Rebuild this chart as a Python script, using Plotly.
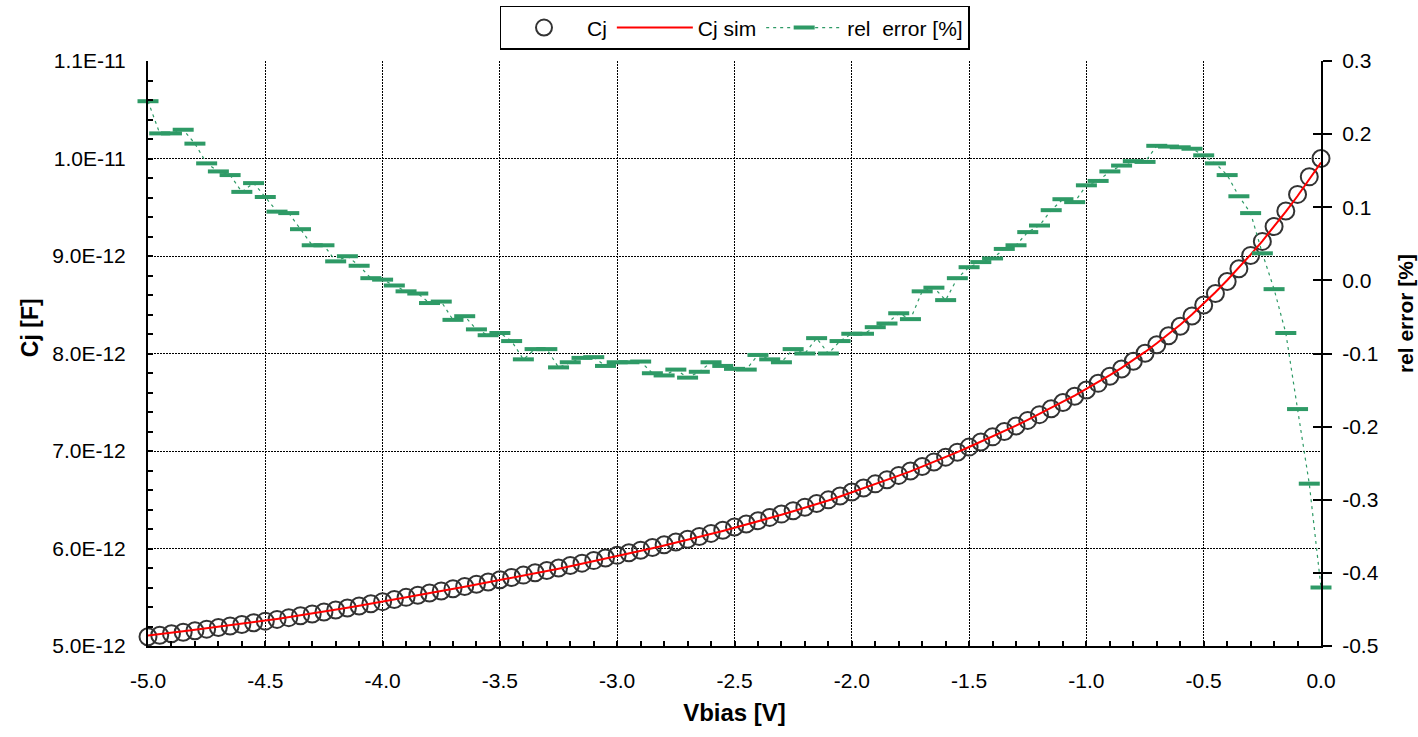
import plotly.graph_objects as go

# Bias sweep: -5.0 V to 0.0 V in 50 mV steps
vbias = [round(-5.0 + 0.05 * i, 2) for i in range(101)]

# Measured junction capacitance in pF
cj_pf = [
    5.095, 5.110, 5.125, 5.141, 5.157, 5.173, 5.189, 5.205, 5.221, 5.238,
    5.255, 5.273, 5.291, 5.310, 5.329, 5.349, 5.369, 5.390, 5.411, 5.433,
    5.455, 5.477, 5.499, 5.521, 5.543, 5.565, 5.588, 5.611, 5.634, 5.657,
    5.680, 5.703, 5.727, 5.751, 5.775, 5.800, 5.825, 5.850, 5.876, 5.903,
    5.930, 5.956, 5.983, 6.010, 6.038, 6.066, 6.095, 6.124, 6.155, 6.187,
    6.220, 6.252, 6.285, 6.319, 6.353, 6.388, 6.424, 6.461, 6.499, 6.539,
    6.580, 6.621, 6.663, 6.706, 6.750, 6.795, 6.841, 6.888, 6.937, 6.988,
    7.040, 7.092, 7.145, 7.200, 7.256, 7.314, 7.373, 7.434, 7.497, 7.561,
    7.626, 7.694, 7.766, 7.841, 7.920, 8.003, 8.090, 8.182, 8.280, 8.385,
    8.497, 8.615, 8.739, 8.869, 9.006, 9.150, 9.302, 9.462, 9.632, 9.812,
    10.000,
]

# Relative error of the simulated capacitance, in percent
rel_err = [
    0.245, 0.201, 0.201, 0.206, 0.187, 0.160, 0.149, 0.144, 0.121, 0.133,
    0.114, 0.094, 0.092, 0.070, 0.048, 0.048, 0.026, 0.033, 0.020, 0.003,
    0.001, -0.007, -0.015, -0.018, -0.031, -0.029, -0.054, -0.049, -0.067, -0.075,
    -0.072, -0.083, -0.108, -0.094, -0.094, -0.119, -0.112, -0.106, -0.105, -0.117,
    -0.112, -0.112, -0.111, -0.127, -0.130, -0.122, -0.133, -0.125, -0.112, -0.117,
    -0.121, -0.122, -0.102, -0.108, -0.112, -0.094, -0.100, -0.079, -0.100, -0.083,
    -0.073, -0.073, -0.064, -0.059, -0.045, -0.053, -0.015, -0.010, -0.027, 0.003,
    0.018, 0.025, 0.030, 0.043, 0.048, 0.066, 0.075, 0.096, 0.111, 0.107,
    0.130, 0.136, 0.149, 0.157, 0.163, 0.162, 0.184, 0.183, 0.182, 0.180,
    0.171, 0.160, 0.144, 0.115, 0.092, 0.037, -0.012, -0.072, -0.176, -0.278,
    -0.420,
]

# Axis ticks
x_tickvals = [-5.0, -4.5, -4.0, -3.5, -3.0, -2.5, -2.0, -1.5, -1.0, -0.5, 0.0]
x_ticktext = ["-5.0", "-4.5", "-4.0", "-3.5", "-3.0", "-2.5", "-2.0", "-1.5", "-1.0", "-0.5", "0.0"]
cj_tickvals = [5e-12, 6e-12, 7e-12, 8e-12, 9e-12, 1.0e-11, 1.1e-11]
cj_ticktext = ["5.0E-12", "6.0E-12", "7.0E-12", "8.0E-12", "9.0E-12", "1.0E-11", "1.1E-11"]
err_tickvals = [-0.5, -0.4, -0.3, -0.2, -0.1, 0.0, 0.1, 0.2, 0.3]
err_ticktext = ["-0.5", "-0.4", "-0.3", "-0.2", "-0.1", "0.0", "0.1", "0.2", "0.3"]

cj = [c * 1e-12 for c in cj_pf]
cj_sim = [c * (1 + e / 100.0) for c, e in zip(cj, rel_err)]

FONT = "Arial, 'Liberation Sans', sans-serif"
GREEN = "rgb(46,154,102)"

fig = go.Figure()

fig.add_trace(go.Scatter(
    x=vbias, y=cj, name="Cj", mode="markers", cliponaxis=False,
    marker=dict(symbol="circle-open", size=17, color="#333333",
                line=dict(width=2, color="#333333")),
))
fig.add_trace(go.Scatter(
    x=vbias, y=cj_sim, name="Cj sim", mode="lines",
    line=dict(color="red", width=2),
))
fig.add_trace(go.Scatter(
    x=vbias, y=rel_err, name="rel\u00a0 error [%]", mode="lines+markers",
    yaxis="y2", cliponaxis=False,
    line=dict(color=GREEN, width=1.2, dash="3px,4px"),
    marker=dict(symbol="line-ew", size=15, color=GREEN,
                line=dict(width=4, color=GREEN)),
))
# invisible carrier for the inner tick marks of the right axis
fig.add_trace(go.Scatter(
    x=vbias, y=rel_err, yaxis="y3", mode="lines",
    line=dict(width=0), opacity=0, showlegend=False, hoverinfo="skip",
))

tick_font = dict(family=FONT, size=21, color="black")
title_font = dict(family=FONT, size=24, color="black")

fig.update_layout(
    width=1418, height=737, autosize=False,
    margin=dict(l=148, r=97, t=61, b=91, autoexpand=False),
    paper_bgcolor="white", plot_bgcolor="white",
    font=dict(family=FONT, size=21, color="black"),
    showlegend=True,
    legend=dict(
        orientation="h", xref="paper", x=0.5, xanchor="center",
        yref="container", y=0.992, yanchor="top",
        bordercolor="black", borderwidth=1.5, bgcolor="white",
        font=dict(family=FONT, size=21, color="black"),
        itemwidth=76,
    ),
    xaxis=dict(
        range=[-5, 0], tickmode="array", tickvals=x_tickvals, ticktext=x_ticktext,
        ticks="inside", ticklen=5, tickwidth=1.5, tickcolor="black",
        showline=True, linewidth=2, linecolor="black", mirror=False,
        showgrid=True, gridcolor="black", gridwidth=1.3, griddash="2px,1px",
        zeroline=False, tickfont=tick_font, ticklabelstandoff=15,
        minor=dict(tickmode="linear", tick0=-5, dtick=0.1, ticks="inside",
                   ticklen=5, tickwidth=1.5, tickcolor="black", showgrid=False),
        title=dict(text="<b>Vbias [V]</b>", font=title_font, standoff=13),
    ),
    yaxis=dict(
        range=[5e-12, 1.1e-11], tickmode="array", tickvals=cj_tickvals, ticktext=cj_ticktext,
        ticks="inside", ticklen=5, tickwidth=1.5, tickcolor="black",
        showline=True, linewidth=2, linecolor="black",
        showgrid=True, gridcolor="black", gridwidth=1.3, griddash="2px,1px",
        zeroline=False, tickfont=tick_font, ticklabelstandoff=16,
        minor=dict(tickmode="linear", tick0=5e-12, dtick=0.2e-12, ticks="inside",
                   ticklen=5, tickwidth=1.5, tickcolor="black", showgrid=False),
    ),
    yaxis2=dict(
        overlaying="y", side="right", anchor="x",
        range=[-0.5, 0.3], tickmode="array", tickvals=err_tickvals, ticktext=err_ticktext,
        ticks="outside", ticklen=9, tickwidth=1.5, tickcolor="black",
        showline=True, linewidth=2, linecolor="black",
        showgrid=False, zeroline=False, tickfont=tick_font, ticklabelstandoff=6,
    ),
    yaxis3=dict(
        overlaying="y", side="right", anchor="x",
        range=[-0.5, 0.3], tickmode="array", tickvals=err_tickvals,
        ticks="inside", ticklen=8, tickwidth=1.5, tickcolor="black",
        showticklabels=False, showline=False, showgrid=False, zeroline=False,
    ),
    annotations=[
        dict(text="<b>Cj [F]</b>", xref="paper", yref="paper", x=-0.1006, y=0.545,
             xanchor="center", yanchor="middle",
             textangle=-90, showarrow=False, font=dict(family=FONT, size=23, color="black")),
        dict(text="<b>rel error [%]</b>", xref="paper", yref="paper", x=1.0716, y=0.569,
             xanchor="center", yanchor="middle",
             textangle=-90, showarrow=False, font=dict(family=FONT, size=21, color="black")),
    ],
)

fig.write_html("out.html")
